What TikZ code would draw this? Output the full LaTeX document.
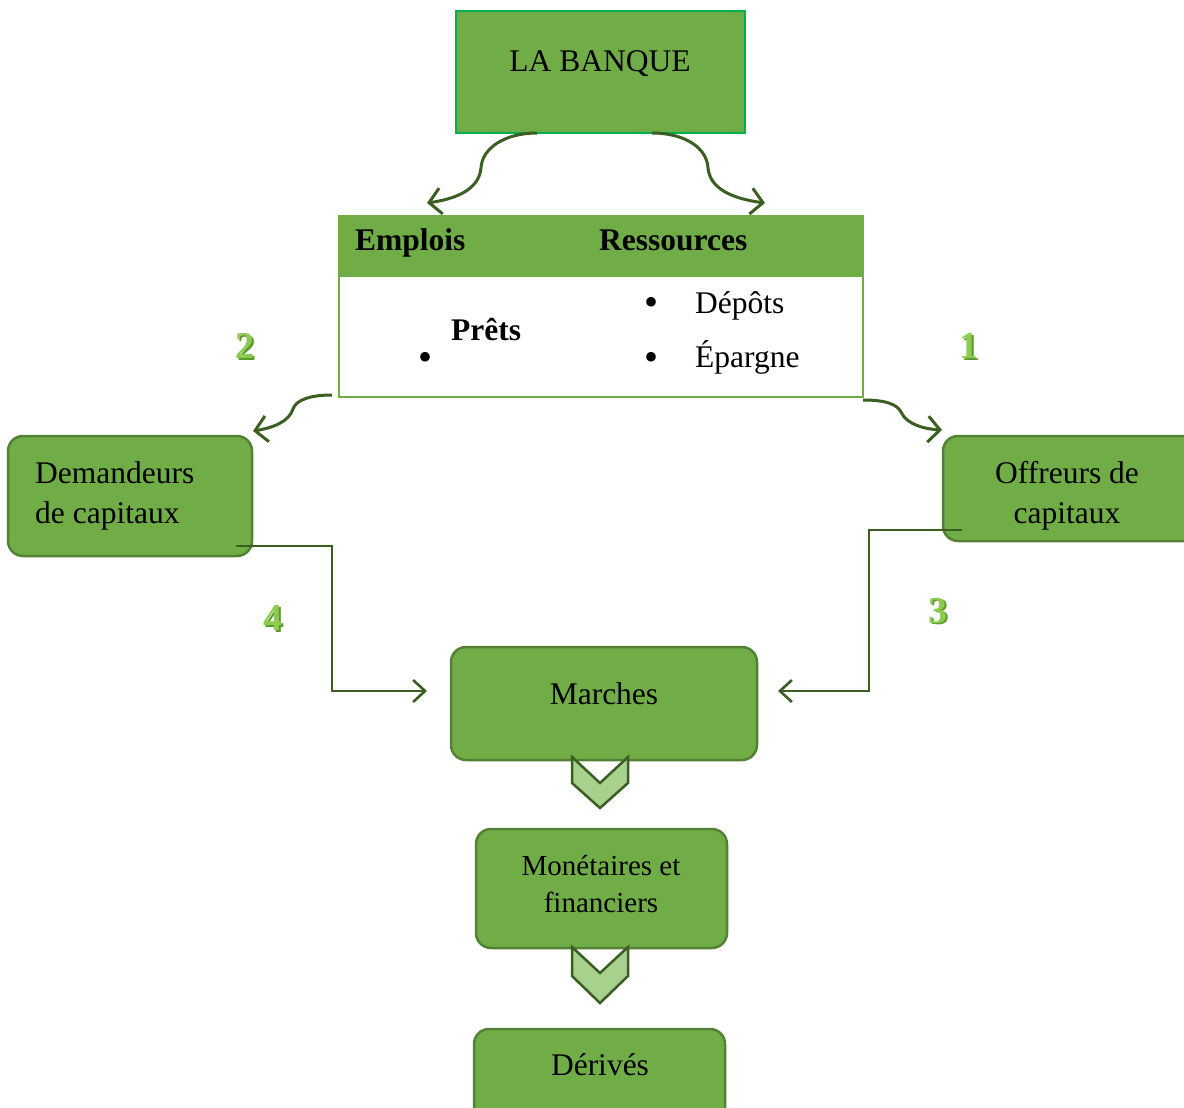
\documentclass[tikz,border=0pt]{standalone}
\usepackage{fontspec}
\setmainfont{Liberation Serif}
\usetikzlibrary{arrows.meta}
\definecolor{gmain}{HTML}{70AD47}
\definecolor{gedge}{HTML}{548235}
\definecolor{gbright}{HTML}{00B050}
\definecolor{gline}{HTML}{3B5E22}
\definecolor{glight}{HTML}{A9D18E}
\definecolor{gnum}{HTML}{8CCB4F}
\definecolor{gnumdark}{HTML}{5A9A2A}
\tikzset{
  txt/.style={font=\fontsize{31.5}{38}\selectfont, inner sep=0pt},
  stxt/.style={font=\fontsize{29}{35}\selectfont, inner sep=0pt},
  btxt/.style={font=\fontsize{31.5}{38}\selectfont\bfseries, inner sep=0pt},
  bul/.style={font=\fontsize{40}{40}\selectfont, inner sep=0pt},
  num/.style={font=\fontsize{38}{44}\selectfont\bfseries, text=gnum, inner sep=0pt},
  rbox/.style={draw=gedge, fill=gmain, line width=2.5pt, rounded corners=15pt},
  curl/.style={draw=gline, line width=3pt, -{Straight Barb[length=12pt,width=26pt,line width=3pt]}},
  elbow/.style={draw=gline, line width=2.6pt, -{Straight Barb[length=12pt,width=22pt,line width=2.6pt]}},
  chev/.style={draw=gline, fill=glight, line width=2.5pt, line join=miter}
}
\begin{document}
\begin{tikzpicture}[x=1pt,y=-1pt]
\clip (0,0) rectangle (1184,1108);
\fill[white] (0,0) rectangle (1184,1108);

% LA BANQUE
\draw[fill=gmain, draw=gbright, line width=2.5pt] (456,11) rectangle (745,133);
\node[txt] (bank) at (600,64) {LA BANQUE};
\coordinate (bl) at (537,133);
\coordinate (br) at (652,133);

% table
\fill[gmain] (339,216) rectangle (863,277);
\draw[gmain, line width=2.5pt] (339,216) rectangle (863,397);
\node[btxt, anchor=base west] (emplois) at (355,250) {Emplois};
\node[btxt, anchor=base west] (ress) at (599,250) {Ressources};
\node[btxt, anchor=base west] (prets) at (451,340) {Prêts};
\node[bul] (b1) at (425,361) {\textbullet};
\node[bul] (b2) at (651,306) {\textbullet};
\node[bul] (b3) at (651,361) {\textbullet};
\node[txt, anchor=base west] (depots) at (695,313) {Dépôts};
\node[txt, anchor=base west] (epargne) at (695,367) {Épargne};
\coordinate (tl) at (332,395);
\coordinate (tr) at (863,400);

% curly arrows from bank
\coordinate (e1) at (427,203);
\coordinate (e2) at (765,203);
\draw[curl] (bl) .. controls (505,133) and (482,148) .. (481,168) .. controls (479,190) and (455,199) .. (e1);
\draw[curl] (br) .. controls (685,133) and (707,148) .. (708,168) .. controls (710,190) and (735,199) .. (e2);

% side boxes
\draw[rbox] (8,436) rectangle (252,556);
\node[txt, anchor=base west] (dem1) at (35,483) {Demandeurs};
\node[txt, anchor=base west] (dem2) at (35,523) {de capitaux};
\draw[rbox] (943,436) rectangle (1210,541);
\node[txt, anchor=base] (off1) at (1067,483) {Offreurs de};
\node[txt, anchor=base] (off2) at (1067,523) {capitaux};

\coordinate (e3) at (253,431);
\coordinate (e4) at (942,430);
\draw[curl] (tl) .. controls (310,395) and (296,400) .. (293,409) .. controls (289,422) and (272,428) .. (e3);
\draw[curl] (tr) .. controls (885,400) and (897,404) .. (901,412) .. controls (907,425) and (925,429) .. (e4);

% numbers
\node[num, text=gnumdark] at (970.5,347.5) {1};
\node[num] (n1) at (969,346) {1};
\node[num, text=gnumdark] at (246.5,347.5) {2};
\node[num] (n2) at (245,346) {2};
\node[num, text=gnumdark] at (939.5,612.5) {3};
\node[num] (n3) at (938,611) {3};
\node[num, text=gnumdark] at (274.5,619.5) {4};
\node[num] (n4) at (273,618) {4};

% Marches etc
\draw[rbox] (451,647) rectangle (757,760);
\node[txt, anchor=base] (marches) at (604,704) {Marches};
\draw[rbox] (476,829) rectangle (727,948);
\node[stxt, anchor=base] (mon1) at (601,875) {Monétaires et};
\node[stxt, anchor=base] (mon2) at (601,912) {financiers};
\draw[rbox] (474,1029) rectangle (725,1130);
\node[txt, anchor=base] (der) at (600,1075) {Dérivés};

% elbow connectors
\coordinate (d0) at (236,546);
\coordinate (d1) at (427,691);
\coordinate (o0) at (962,530);
\coordinate (o1) at (778,691);
\draw[elbow] (d0) -- (332,546) -- (332,691) -- (d1);
\draw[elbow] (o0) -- (869,530) -- (869,691) -- (o1);

% chevrons
\draw[chev] (572,757) -- (600,783) -- (628,757) -- (628,783) -- (600,808) -- (572,783) -- cycle;
\draw[chev] (572,947) -- (600,973) -- (628,947) -- (628,976) -- (600,1003) -- (572,976) -- cycle;
\end{tikzpicture}
\end{document}
